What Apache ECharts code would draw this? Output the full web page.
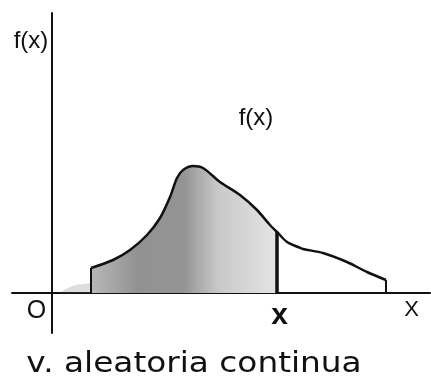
<!DOCTYPE html>
<html>
<head>
<meta charset="utf-8">
<script src="https://cdn.jsdelivr.net/npm/echarts@6/dist/echarts.min.js"></script>
<style>
  html, body { margin: 0; padding: 0; background: #fff; }
  #chart { width: 431px; height: 378px; }
</style>
</head>
<body>
<div id="chart"></div>
<script>
// Density curve f(x) of a continuous random variable
const curveX = [3.9, 6.1, 7.8, 9.5, 10.8, 11.8, 12.5, 13.1, 14.1, 15.1, 16.8, 18.8, 20.5, 21.8, 22.5, 23.5, 24.6, 25.1, 27.1, 29.5, 31.5, 33.4];
const curveY = [2.5, 3.3, 4.3, 5.8, 7.5, 9.6, 11.5, 12.3, 12.7, 12.5, 11.1, 9.8, 8.3, 6.8, 6.1, 5.1, 4.6, 4.4, 4.0, 3.1, 2.1, 1.3];
// Point x up to which the area (probability) is shaded
const xMark = 22.5;
// Faint stipple just left of the support
const stippleX = [0.7, 1.6, 2.4, 3.2, 3.9];
const stippleY = [0, 0.5, 0.8, 0.9, 1.0];
// Axis extents
const xRange = [-4, 37.8];
const yRange = [-4, 28];

const curve = curveX.map((x, i) => [x, curveY[i]]);
const shaded = curve.filter(p => p[0] <= xMark);
const markY = curveY[curveX.indexOf(xMark)];
const first = curve[0], last = curve[curve.length - 1];

const ink = '#111';
const smoothness = 0.3;
const edge = (x, y, w) => ({
  type: 'line', data: [[x, 0], [x, y]], symbol: 'none', silent: true,
  lineStyle: { color: ink, width: w }, z: 5
});

const chart = echarts.init(document.getElementById('chart'), null, { renderer: 'canvas' });
chart.setOption({
  animation: false,
  backgroundColor: '#fff',
  grid: { left: 12, right: 1, top: 13, bottom: 45 },
  xAxis: {
    type: 'value', min: xRange[0], max: xRange[1],
    axisLine: { onZero: true, lineStyle: { color: ink, width: 2 } },
    axisTick: { show: false }, axisLabel: { show: false }, splitLine: { show: false }
  },
  yAxis: {
    type: 'value', min: yRange[0], max: yRange[1],
    axisLine: { show: true, onZero: true, lineStyle: { color: ink, width: 2 } },
    axisTick: { show: false }, axisLabel: { show: false }, splitLine: { show: false }
  },
  series: [
    {
      type: 'line', data: stippleX.map((x, i) => [x, stippleY[i]]), symbol: 'none',
      smooth: 0.4, lineStyle: { width: 0 },
      areaStyle: { color: 'rgba(120,120,120,0.35)' }, z: 1
    },
    {
      type: 'line', data: shaded, symbol: 'none', smooth: smoothness,
      lineStyle: { width: 0 },
      areaStyle: {
        opacity: 1,
        color: {
          type: 'linear', x: 0, y: 0, x2: 1, y2: 0,
          colorStops: [
            { offset: 0, color: '#b8b8b8' },
            { offset: 0.25, color: '#929292' },
            { offset: 0.5, color: '#949494' },
            { offset: 0.68, color: '#c8c8c8' },
            { offset: 1, color: '#e4e4e4' }
          ]
        }
      },
      z: 2
    },
    {
      type: 'line', data: curve, symbol: 'none', smooth: smoothness,
      lineStyle: { color: ink, width: 2.5 }, z: 4
    },
    edge(first[0], first[1], 2),
    edge(xMark, markY, 3.5),
    edge(last[0], last[1], 2)
  ],
  graphic: [
    { type: 'text', x: 31, y: 41, style: { text: 'f(x)', font: '24px "Liberation Sans"', fill: ink, textAlign: 'center', textVerticalAlign: 'middle' } },
    { type: 'text', x: 256, y: 118, style: { text: 'f(x)', font: '24px "Liberation Sans"', fill: ink, textAlign: 'center', textVerticalAlign: 'middle' } },
    { type: 'text', x: 36.5, y: 311, style: { text: 'O', font: '25px "Liberation Sans"', fill: ink, textAlign: 'center', textVerticalAlign: 'middle' } },
    { type: 'text', x: 279.5, y: 316, style: { text: 'x', font: 'bold 30px "Liberation Sans"', fill: ink, textAlign: 'center', textVerticalAlign: 'middle' } },
    { type: 'text', x: 411.5, y: 310, style: { text: 'X', font: '22px "Liberation Sans"', fill: ink, textAlign: 'center', textVerticalAlign: 'middle' } },
    { type: 'text', x: 194, y: 365, scaleX: 1.17, originX: 0, style: { text: 'v. aleatoria continua', font: '28px "DejaVu Sans"', fill: ink, textAlign: 'center', textVerticalAlign: 'middle' } }
  ]
});
</script>
</body>
</html>
